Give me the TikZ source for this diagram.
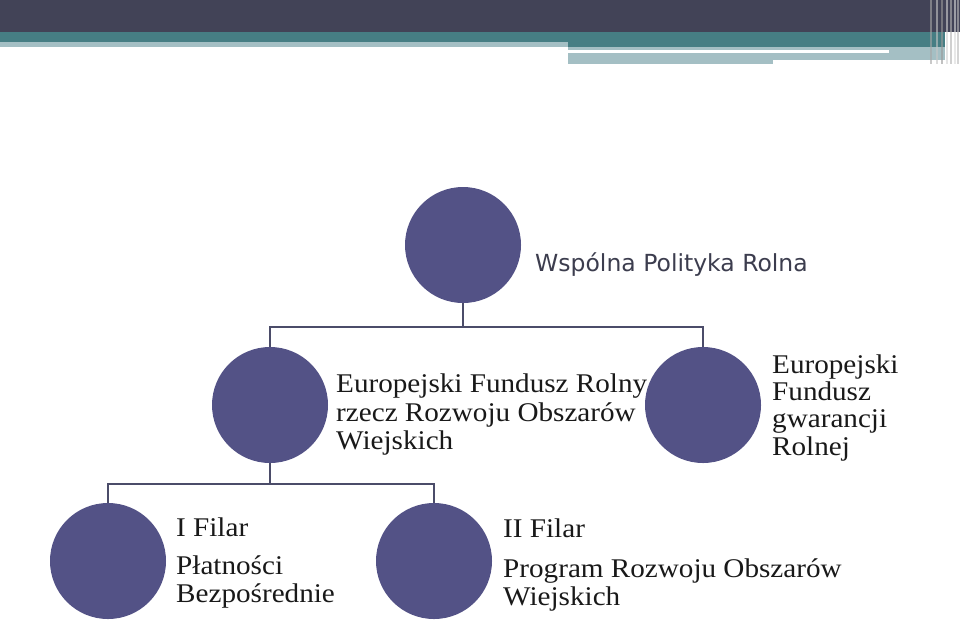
\documentclass[tikz,border=0pt]{standalone}
\usepackage{fontspec}
\newfontfamily\serifA[FakeStretch=1.08]{Liberation Serif}
\newfontfamily\sansA{DejaVu Sans}
\definecolor{hdark}{RGB}{66,67,87}
\definecolor{hteal}{RGB}{70,126,132}
\definecolor{hlight}{RGB}{164,191,196}
\definecolor{cfill}{RGB}{83,82,134}
\definecolor{cline}{RGB}{75,76,105}
\definecolor{stext}{RGB}{60,61,78}
\tikzset{
  circ/.style={circle, fill=cfill, minimum size=116pt, inner sep=0pt},
  conn/.style={draw=cline, line width=2.2pt},
  lbl/.style={anchor=base west, inner sep=0pt, font=\serifA\fontsize{27}{29}\selectfont, text=black!90},
}
\begin{document}
\begin{tikzpicture}[x=1pt,y=-1pt]
\useasboundingbox (0,0) rectangle (960,625);
\fill[white] (0,0) rectangle (960,625);
% header
\fill[hdark] (0,0) rectangle (960,32);
\fill[hteal] (0,32) rectangle (568,42);
\fill[hteal] (568,32) rectangle (945,47);
\fill[hlight] (0,42) rectangle (568,47);
\fill[hlight] (568,47) rectangle (945,62);
\fill[white] (568,50) rectangle (889,53);
\fill[hlight] (568,55) rectangle (773,64);
\fill[white] (773,60) rectangle (945,64);
\foreach \xx/\cc in {930/gray!70,936/gray!45,941/gray!80,946/gray!35,950/gray!60,954/gray!30,957/gray!55}
  \fill[\cc, opacity=0.6] (\xx,0) rectangle ++(2,64);
% circles
\node[circ] (wpr) at (463,245) {};
\node[circ] (efrrow) at (270,405) {};
\node[circ] (efgr) at (703,405) {};
\node[circ] (f1) at (108,561) {};
\node[circ] (f2) at (434,561) {};
% connectors
\draw[conn] (wpr.south) -- ++(0,24) -| (efrrow.north);
\draw[conn] (wpr.south) -- ++(0,24) -| (efgr.north);
\draw[conn] (efrrow.south) -- ++(0,21) -| (f1.north);
\draw[conn] (efrrow.south) -- ++(0,21) -| (f2.north);
% labels
\node[anchor=base west, inner sep=0pt, font=\sansA\fontsize{23.5}{26}\selectfont, text=stext] (t0) at (535,271) {Wspólna Polityka Rolna};
\node[lbl] (t1a) at (336,392) {Europejski Fundusz Rolny};
\node[lbl] (t1b) at (336,421) {rzecz Rozwoju Obszarów};
\node[lbl] (t1c) at (336,449) {Wiejskich};
\node[lbl] (t2a) at (772,373) {Europejski};
\node[lbl] (t2b) at (772,400) {Fundusz};
\node[lbl] (t2c) at (772,427) {gwarancji};
\node[lbl] (t2d) at (772,455) {Rolnej};
\node[lbl] (t3a) at (176,536) {I Filar};
\node[lbl] (t3b) at (176,574) {Płatności};
\node[lbl] (t3c) at (176,602) {Bezpośrednie};
\node[lbl] (t4a) at (503,537) {II Filar};
\node[lbl] (t4b) at (503,577) {Program Rozwoju Obszarów};
\node[lbl] (t4c) at (503,605) {Wiejskich};
\end{tikzpicture}
\end{document}
